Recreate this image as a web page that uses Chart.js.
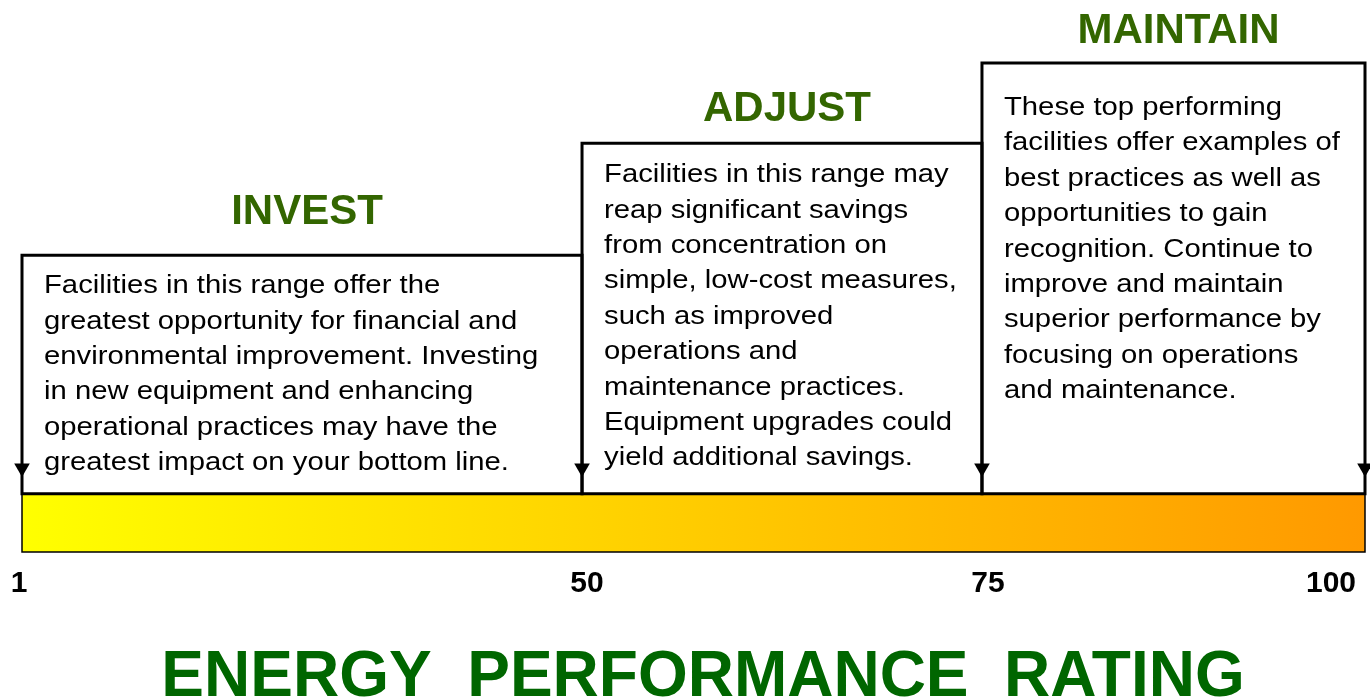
<!DOCTYPE html>
<html lang="en">
<head>
  <meta charset="UTF-8">
  <title>Energy Performance Rating</title>
  <script src="https://cdn.jsdelivr.net/npm/chart.js"></script>
  <style>
    html, body {
      margin: 0;
      padding: 0;
      background: #ffffff;
    }
    #chart-container {
      position: relative;
      width: 1370px;
      height: 700px;
    }
  </style>
</head>
<body>
  <div id="chart-container">
    <canvas id="myChart"></canvas>
  </div>

  <script>
    // rating breakpoints and tick labels
    const tickValues = [1, 50, 75, 100];
    const tickLabels = ['1', '50', '75', '100'];

    // one box per range, height of each step
    const rangeNames = ['INVEST', 'ADJUST', 'MAINTAIN'];
    const rangeHeights = [55.4, 81.4, 100];
    const rangeTexts = [
      ['Facilities in this range offer the',
       'greatest opportunity for financial and',
       'environmental improvement. Investing',
       'in new equipment and enhancing',
       'operational practices may have the',
       'greatest impact on your bottom line.'],
      ['Facilities in this range may',
       'reap significant savings',
       'from concentration on',
       'simple, low-cost measures,',
       'such as improved',
       'operations and',
       'maintenance practices.',
       'Equipment upgrades could',
       'yield additional savings.'],
      ['These top performing',
       'facilities offer examples of',
       'best practices as well as',
       'opportunities to gain',
       'recognition. Continue to',
       'improve and maintain',
       'superior performance by',
       'focusing on operations',
       'and maintenance.']
    ];
    const barDepth = -13.5;   // the colour bar sits below zero
    const arrowLevel = 6;

    // the axis in the picture is not linear: where each breakpoint sits across the width
    const axisStops = [0, 0.417, 0.7148, 1];

    function toDecimal(v) {
      for (let i = 0; i < tickValues.length - 1; i++) {
        const a = tickValues[i], b = tickValues[i + 1];
        if (v <= b || i === tickValues.length - 2) {
          const t = (v - a) / (b - a);
          return axisStops[i] + t * (axisStops[i + 1] - axisStops[i]);
        }
      }
      return 0;
    }

    class PiecewiseScale extends Chart.LinearScale {
      getPixelForValue(value) {
        if (value === null || value === undefined) return NaN;
        return this.getPixelForDecimal(toDecimal(value));
      }
      getValueForPixel(pixel) {
        const d = this.getDecimalForPixel(pixel);
        for (let i = 0; i < axisStops.length - 1; i++) {
          if (d <= axisStops[i + 1]) {
            const t = (d - axisStops[i]) / (axisStops[i + 1] - axisStops[i]);
            return tickValues[i] + t * (tickValues[i + 1] - tickValues[i]);
          }
        }
        return tickValues[tickValues.length - 1];
      }
    }
    PiecewiseScale.id = 'piecewise';
    PiecewiseScale.defaults = Chart.LinearScale.defaults;
    Chart.register(PiecewiseScale);

    const bodyFont = '"Liberation Sans", Arial, sans-serif';

    // outline of each range box
    const boxSets = rangeHeights.map((h, i) => {
      const a = tickValues[i], b = tickValues[i + 1];
      return {
        type: 'line',
        data: [{x: a, y: 0}, {x: a, y: h}, {x: b, y: h}, {x: b, y: 0}, {x: a, y: 0}],
        borderColor: '#000000',
        borderWidth: 3,
        borderJoinStyle: 'miter',
        borderCapStyle: 'square',
        pointRadius: 0,
        fill: false,
        tension: 0,
        clip: false,
        order: 2
      };
    });

    function barGradient(context) {
      const chart = context.chart;
      const area = chart.chartArea;
      if (!area) return '#ffd000';
      const x0 = chart.scales.x.getPixelForValue(tickValues[0]);
      const x1 = chart.scales.x.getPixelForValue(tickValues[tickValues.length - 1]);
      const g = chart.ctx.createLinearGradient(x0, 0, x1, 0);
      g.addColorStop(0, '#ffff00');
      g.addColorStop(1, '#ff9900');
      return g;
    }

    const first = tickValues[0], last = tickValues[tickValues.length - 1];

    const datasets = [
      {
        type: 'line',
        data: tickValues.map(v => ({x: v, y: arrowLevel})),
        showLine: false,
        pointStyle: 'triangle',
        rotation: 180,
        pointRadius: 9,
        pointBackgroundColor: '#000000',
        pointBorderWidth: 0,
        clip: false,
        order: 1
      },
      ...boxSets,
      {
        type: 'line',
        data: [{x: first, y: 0}, {x: last, y: 0}, {x: last, y: barDepth}, {x: first, y: barDepth}, {x: first, y: 0}],
        borderColor: '#000000',
        borderWidth: 1.5,
        borderJoinStyle: 'miter',
        pointRadius: 0,
        fill: false,
        clip: false,
        order: 3
      },
      {
        type: 'line',
        data: [{x: first, y: 0}, {x: last, y: 0}],
        borderWidth: 0,
        pointRadius: 0,
        backgroundColor: barGradient,
        fill: {value: barDepth},
        clip: false,
        order: 4
      }
    ];

    // text layout: heading lift, body offsets
    const headingLift = [31, 22, 20];
    const textDrop = [38, 39, 52];
    const lineGap = 35.4;
    const textStretch = 1.125;   // body text in the picture is drawn wide
    const labelShift = [-3, 5, 6, -34];

    const textPlugin = {
      id: 'rangeText',
      afterDatasetsDraw(chart) {
        const ctx = chart.ctx;
        const xs = chart.scales.x, ys = chart.scales.y;
        ctx.save();
        ctx.textBaseline = 'alphabetic';

        rangeNames.forEach((name, i) => {
          const xa = xs.getPixelForValue(tickValues[i]);
          const xb = xs.getPixelForValue(tickValues[i + 1]);
          const top = ys.getPixelForValue(rangeHeights[i]);

          ctx.fillStyle = '#336600';
          ctx.font = 'bold 42px ' + bodyFont;
          ctx.textAlign = 'center';
          ctx.fillText(name, (xa + xb) / 2 + 5, top - headingLift[i]);

          ctx.fillStyle = '#000000';
          ctx.font = '26px ' + bodyFont;
          ctx.textAlign = 'left';
          rangeTexts[i].forEach((line, k) => {
            ctx.save();
            ctx.translate(xa + 22, top + textDrop[i] + k * lineGap);
            ctx.scale(textStretch, 1);
            ctx.fillText(line, 0, 0);
            ctx.restore();
          });
        });

        ctx.fillStyle = '#000000';
        ctx.font = 'bold 30px ' + bodyFont;
        ctx.textAlign = 'center';
        tickValues.forEach((v, i) => {
          ctx.fillText(tickLabels[i], xs.getPixelForValue(v) + labelShift[i], 592);
        });

        ctx.fillStyle = '#006600';
        ctx.font = 'bold 64px ' + bodyFont;
        ctx.fillText('ENERGY  PERFORMANCE  RATING', 703, 696);
        ctx.restore();
      }
    };

    const ctx = document.getElementById('myChart').getContext('2d');
    const myChart = new Chart(ctx, {
      data: { datasets: datasets },
      options: {
        responsive: true,
        maintainAspectRatio: false,
        animation: false,
        events: [],
        layout: {
          autoPadding: false,
          padding: { left: 22, right: 5, top: 63, bottom: 148 }
        },
        plugins: {
          legend: { display: false },
          tooltip: { enabled: false }
        },
        scales: {
          x: {
            type: 'piecewise',
            min: first,
            max: last,
            display: false,
            afterBuildTicks: scale => {
              scale.ticks = tickValues.map(v => ({value: v}));
            }
          },
          y: {
            type: 'linear',
            min: barDepth,
            max: 100,
            display: false
          }
        }
      },
      plugins: [textPlugin]
    });
  </script>
</body>
</html>
